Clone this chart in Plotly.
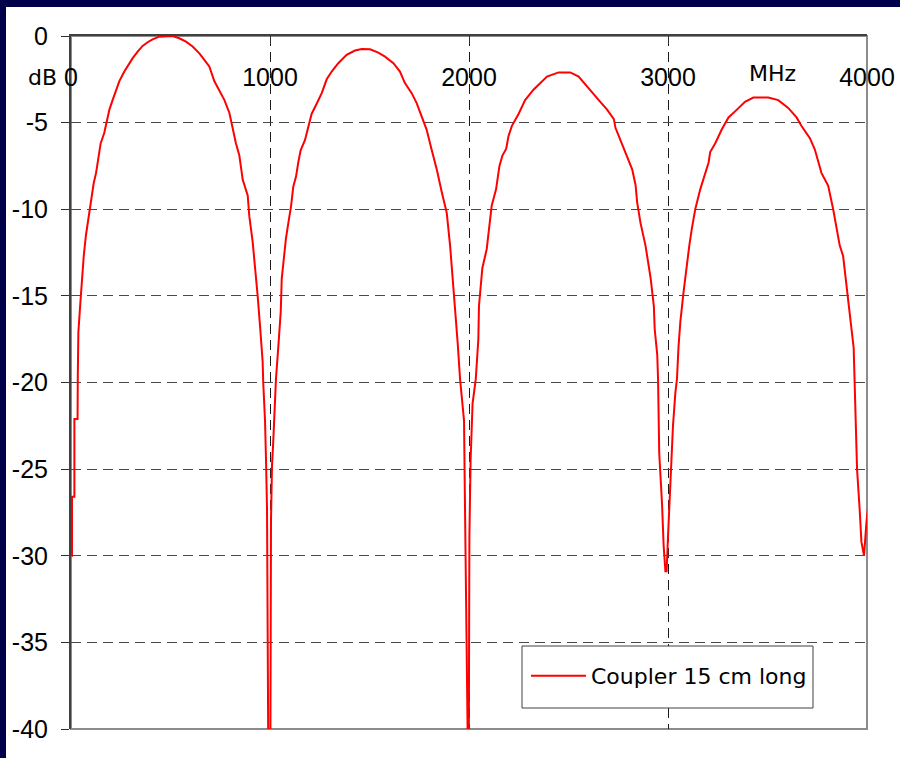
import plotly.graph_objects as go

# ---- data (frequency in MHz, coupling in dB) ----
lobe1_f = [3, 5, 5, 17, 17, 33, 34, 37, 47, 55, 64, 75, 87, 100, 114, 126, 137, 149, 167, 179,
           193, 209, 226, 243, 268, 293, 310, 335, 360, 385, 410, 444, 477, 511, 544, 578, 611,
           645, 670, 695, 720, 745, 771, 796, 812, 829, 846, 863, 888, 896, 913, 930, 938, 951,
           963, 966, 975, 980, 985, 993, 998]
lobe1_db = [-30.0, -30.0, -26.6, -26.6, -22.1, -22.1, -19.8, -17.1, -15.4, -13.8, -12.7, -11.5,
            -10.6, -9.6, -8.5, -7.9, -7.2, -6.2, -5.6, -5.0, -4.25, -3.7, -3.1, -2.6, -2.05,
            -1.57, -1.28, -0.9, -0.57, -0.36, -0.19, -0.04, 0.0, 0.0, -0.13, -0.33, -0.61, -1.0,
            -1.38, -1.76, -2.6, -3.1, -3.7, -4.44, -5.4, -6.2, -6.9, -8.3, -9.2, -10.4, -11.9,
            -13.8, -15.0, -16.9, -18.8, -20.0, -22.2, -24.5, -27.3, -45.0, -45.0]

lobe2_f = [1001, 1005, 1010, 1016, 1024, 1030, 1042, 1054, 1059, 1070, 1080, 1092, 1106, 1117,
           1131, 1142, 1154, 1176, 1193, 1209, 1235, 1260, 1285, 1310, 1343, 1385, 1427, 1461,
           1503, 1544, 1578, 1620, 1653, 1678, 1712, 1737, 1762, 1787, 1812, 1838, 1863, 1888,
           1905, 1921, 1930, 1943, 1955, 1965, 1975, 1980, 1987, 1993, 1998]
lobe2_db = [-45.0, -28.0, -24.8, -23.5, -21.0, -19.8, -17.9, -15.9, -14.0, -12.7, -11.7, -10.8,
            -9.8, -8.7, -8.1, -7.3, -6.6, -6.0, -5.2, -4.5, -3.9, -3.3, -2.5, -2.05, -1.57,
            -1.09, -0.84, -0.75, -0.77, -0.96, -1.19, -1.57, -2.05, -2.72, -3.3, -3.87, -4.64,
            -5.4, -6.55, -7.7, -9.0, -10.2, -12.1, -14.4, -15.6, -17.7, -19.8, -21.0, -22.2,
            -27.3, -37.5, -45.0, -45.0]

lobe3_f = [2000, 2002, 2008, 2018, 2034, 2047, 2050, 2067, 2089, 2103, 2114, 2136, 2153, 2168,
           2187, 2198, 2215, 2249, 2282, 2324, 2392, 2450, 2509, 2551, 2610, 2652, 2694, 2728,
           2736, 2761, 2795, 2820, 2837, 2845, 2862, 2887, 2913, 2929, 2933, 2946, 2950, 2952,
           2956, 2970, 2978, 2987, 2993]
lobe3_db = [-37.0, -28.9, -24.5, -21.2, -19.8, -17.5, -15.6, -13.4, -12.3, -10.8, -9.8, -8.85,
            -7.5, -6.9, -6.5, -5.8, -5.2, -4.5, -3.7, -3.1, -2.34, -2.1, -2.1, -2.34, -3.1, -3.7,
            -4.25, -4.8, -5.3, -6.0, -6.9, -7.7, -8.6, -9.6, -10.8, -12.1, -14.0, -15.6, -16.9,
            -18.4, -19.8, -22.0, -24.1, -27.0, -29.4, -30.9, -30.9]

lobe4_f = [3000, 3008, 3015, 3025, 3037, 3045, 3053, 3062, 3078, 3095, 3107, 3120, 3137, 3162,
           3187, 3204, 3212, 3237, 3270, 3304, 3337, 3387, 3429, 3504, 3554, 3604, 3646, 3671,
           3713, 3738, 3771, 3805, 3830, 3855, 3863, 3880, 3896, 3905, 3922, 3933, 3938, 3943,
           3950, 3963, 3972, 3985, 3997, 4013]
lobe4_db = [-28.9, -26.6, -25.0, -22.5, -20.6, -19.8, -17.9, -16.5, -14.8, -13.1, -12.1, -11.1,
            -10.0, -8.85, -7.9, -7.3, -6.7, -6.2, -5.4, -4.7, -4.35, -3.8, -3.55, -3.55, -3.7,
            -4.15, -4.7, -5.2, -5.9, -6.55, -7.9, -8.65, -10.0, -11.5, -12.1, -12.7, -14.2,
            -15.0, -16.9, -18.0, -19.8, -21.2, -25.0, -27.3, -29.2, -30.0, -28.1, -26.4]

freq_mhz = lobe1_f + lobe2_f + lobe3_f + lobe4_f
coupling_db = lobe1_db + lobe2_db + lobe3_db + lobe4_db

x_ticks = [0, 1000, 2000, 3000, 4000]
y_ticks = [0, -5, -10, -15, -20, -25, -30, -35, -40]
series_name = "Coupler 15 cm long"

# ---- geometry (pixels) ----
W, H = 900, 758
L, R, T, B = 71, 867, 36, 729
pw, ph = R - L, B - T
NAVY = "#00004a"


def px(xp):
    return (xp - L) / pw


def py(yp):
    return (B - yp) / ph


fig = go.Figure()
fig.add_trace(go.Scatter(
    x=freq_mhz, y=coupling_db, mode="lines", name=series_name,
    line=dict(color="#ff0000", width=2),
))

tick_font = dict(family="Liberation Sans, Arial, sans-serif", size=25, color="#000000")
comic = "DejaVu Sans, Noto Sans, sans-serif"

fig.update_layout(
    width=W, height=H,
    margin=dict(l=L, r=W - R, t=T, b=H - B, pad=0),
    paper_bgcolor=NAVY,
    plot_bgcolor="#ffffff",
    showlegend=True,
    legend=dict(
        x=px(526), y=py(676), xanchor="left", yanchor="middle",
        bgcolor="rgba(0,0,0,0)", borderwidth=0, itemwidth=55,
        font=dict(family=comic, size=22, color="#000000"),
    ),
    xaxis=dict(
        range=[0, 4000], side="top", tickvals=x_ticks,
        ticktext=[str(v) for v in x_ticks],
        ticks="inside", ticklen=8, tickcolor="#303030", tickwidth=1,
        ticklabelposition="inside", ticklabeloverflow="allow", ticklabelstandoff=26,
        showline=True, linecolor="#404040", linewidth=2,
        showgrid=True, gridcolor="#1a1a1a", gridwidth=1, griddash="10px,6px",
        zeroline=False, tickfont=tick_font, automargin=False, fixedrange=True,
    ),
    yaxis=dict(
        range=[-40, 0], tickvals=y_ticks, ticktext=[str(v) for v in y_ticks],
        ticks="outside", ticklen=8, tickcolor="#303030", tickwidth=1,
        ticklabelstandoff=8,
        showline=True, linecolor="#404040", linewidth=2,
        showgrid=True, gridcolor="#4a4a4a", gridwidth=1, griddash="10px,6px",
        zeroline=False, tickfont=tick_font, automargin=False, fixedrange=True,
    ),
    shapes=[
        # white slide area
        dict(type="rect", xref="paper", yref="paper",
             x0=px(6), x1=px(905), y0=py(765), y1=py(7),
             fillcolor="#ffffff", line=dict(width=0), layer="below"),
        # grey plot-area border (right / bottom)
        dict(type="rect", xref="paper", yref="paper",
             x0=0, x1=1, y0=0, y1=1,
             fillcolor="rgba(0,0,0,0)", line=dict(color="#8c8c8c", width=2), layer="below"),
        # legend frame
        dict(type="rect", xref="paper", yref="paper",
             x0=px(522), x1=px(813), y0=py(708), y1=py(646),
             fillcolor="#ffffff", line=dict(color="#404040", width=1), layer="above"),
    ],
    annotations=[
        dict(text="dB", x=px(42), y=py(77), xref="paper", yref="paper",
             xanchor="center", yanchor="middle",
             showarrow=False, font=dict(family=comic, size=22, color="#000000")),
        dict(text="MHz", x=px(772), y=py(74), xref="paper", yref="paper",
             xanchor="center", yanchor="middle",
             showarrow=False, font=dict(family=comic, size=22, color="#000000")),
    ],
)

fig.write_html(
    "out.html",
    config={"displayModeBar": False},
    post_script="document.body.style.margin='0px';"
                "document.body.style.background='" + NAVY + "';",
)
